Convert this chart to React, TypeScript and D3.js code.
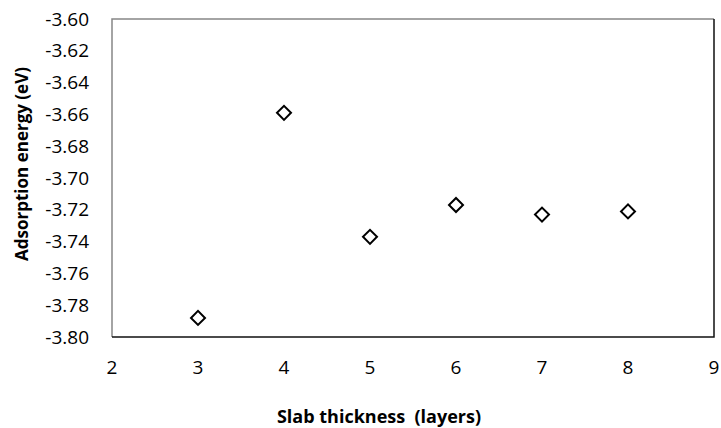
import React, { useEffect, useRef } from 'react';
import * as d3 from 'd3';

// data
const layers = [3, 4, 5, 6, 7, 8];
const energies = [-3.788, -3.659, -3.737, -3.717, -3.723, -3.721];
const xTicks = [2, 3, 4, 5, 6, 7, 8, 9];
const yTicks = [-3.6, -3.62, -3.64, -3.66, -3.68, -3.7, -3.72, -3.74, -3.76, -3.78, -3.8];

const App = () => {
  const svgRef = useRef<SVGSVGElement>(null);

  useEffect(() => {
    const width = 721;
    const height = 428;
    const plot = { left: 112, right: 714, top: 19, bottom: 337 };

    const svg = d3.select(svgRef.current);
    svg.selectAll('*').remove();
    svg.attr('width', width).attr('height', height);

    svg.append('rect').attr('width', width).attr('height', height).attr('fill', '#fff');

    const x = d3.scaleLinear().domain([2, 9]).range([plot.left, plot.right]);
    const y = d3.scaleLinear().domain([-3.8, -3.6]).range([plot.bottom, plot.top]);

    const font = "'Open Sans', sans-serif";

    // plot area border: gray top/left, black axis bottom, black right
    svg.append('path')
      .attr('d', `M${plot.left},${plot.bottom}V${plot.top}H${plot.right}`)
      .attr('fill', 'none')
      .attr('stroke', '#868686')
      .attr('stroke-width', 1.5);
    svg.append('path')
      .attr('d', `M${plot.left},${plot.bottom}H${plot.right}V${plot.top}`)
      .attr('fill', 'none')
      .attr('stroke', '#111')
      .attr('stroke-width', 1.5);

    // y tick labels (plain hyphen, like Excel)
    svg.append('g')
      .selectAll('text')
      .data(yTicks)
      .enter()
      .append('text')
      .attr('x', 89)
      .attr('y', d => y(d) + 6.5)
      .attr('text-anchor', 'end')
      .style('font-family', font)
      .style('font-size', '19px')
      .style('fill', '#000')
      .text(d => d.toFixed(2));

    // x tick labels
    svg.append('g')
      .selectAll('text')
      .data(xTicks)
      .enter()
      .append('text')
      .attr('x', d => x(d))
      .attr('y', 374)
      .attr('text-anchor', 'middle')
      .style('font-family', font)
      .style('font-size', '19px')
      .style('fill', '#000')
      .text(d => d);

    // axis titles
    svg.append('text')
      .attr('x', 379)
      .attr('y', 423)
      .attr('text-anchor', 'middle')
      .style('font-family', font)
      .style('font-size', '18px')
      .style('font-weight', 'bold')
      .style('white-space', 'pre')
      .text('Slab thickness  (layers)');

    svg.append('text')
      .attr('transform', 'translate(28,164) rotate(-90)')
      .attr('text-anchor', 'middle')
      .style('font-family', font)
      .style('font-size', '17px')
      .style('font-weight', 'bold')
      .text('Adsorption energy (eV)');

    // diamond markers
    const diamond = d3.symbol().type(d3.symbolSquare).size(98);
    svg.append('g')
      .selectAll('path')
      .data(layers.map((l, i) => ({ l, e: energies[i] })))
      .enter()
      .append('path')
      .attr('d', diamond)
      .attr('transform', d => `translate(${x(d.l)},${y(d.e)}) rotate(45)`)
      .attr('fill', '#fff')
      .attr('stroke', '#000')
      .attr('stroke-width', 2);
  }, []);

  return (
    <div style={{ position: 'absolute', left: 0, top: 0 }}>
      <svg ref={svgRef} style={{ display: 'block' }} />
    </div>
  );
};

export default App;
